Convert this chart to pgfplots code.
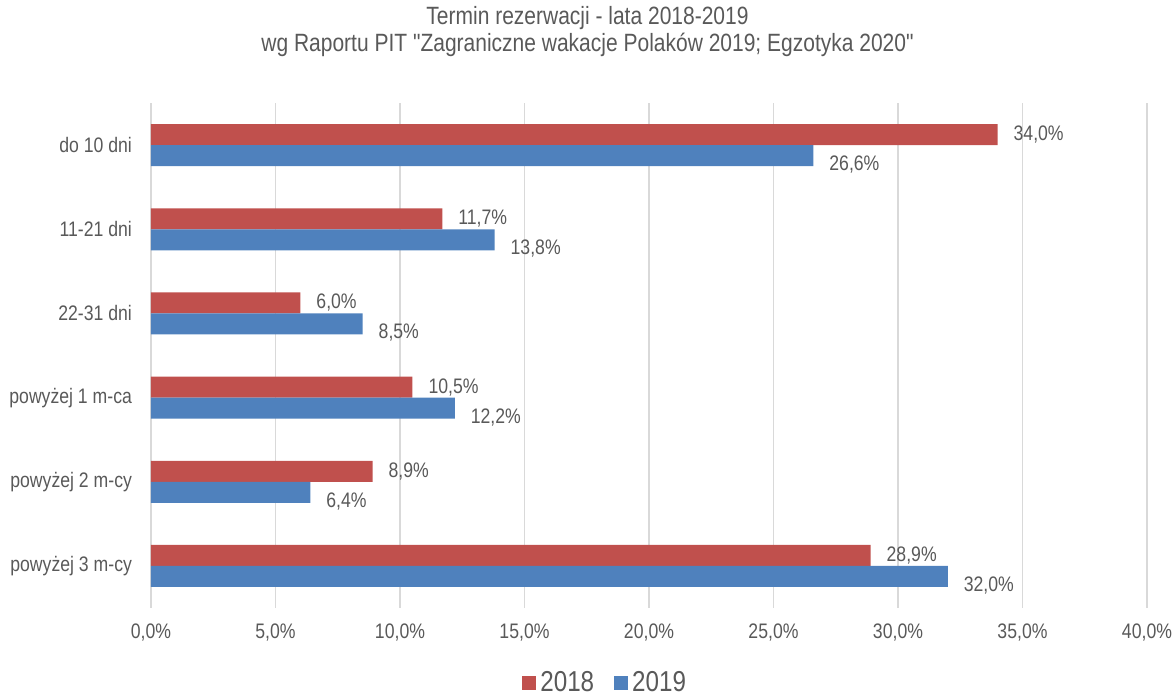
\documentclass[border=0pt]{standalone}
\usepackage{pgfplots}
\pgfplotsset{compat=1.18}
\usepackage{fontspec}
\setmainfont{Liberation Sans}[FakeStretch=0.84]
\newfontfamily\nomap{Liberation Sans}[FakeStretch=0.84]
\definecolor{red18}{HTML}{C0504D}
\definecolor{blue19}{HTML}{4F81BD}
\definecolor{txt}{HTML}{595959}
\definecolor{grd}{HTML}{D9D9D9}
\begin{document}
\begin{tikzpicture}
\useasboundingbox (0,0) rectangle (587.5pt,-347.5pt);
\node[text=txt, font=\fontsize{12.5}{14}\selectfont] at (293.75pt,-9pt) {Termin rezerwacji - lata 2018-2019};
\node[text=txt, font=\nomap\fontsize{12.5}{14}\selectfont] at (293.75pt,-22.5pt) {wg Raportu PIT "Zagraniczne wakacje Polaków 2019; Egzotyka 2020"};
\begin{axis}[
    at={(75.5pt,-304pt)}, anchor=south west,
    scale only axis,
    width=498pt, height=252.5pt,
    xbar, bar width=10.5pt,
    xmin=0, xmax=40, ymin=-0.5, ymax=5.5,
    xtick={0,5,...,40},
    xticklabels={{0,0\%},{5,0\%},{10,0\%},{15,0\%},{20,0\%},{25,0\%},{30,0\%},{35,0\%},{40,0\%}},
    ytick={0,1,2,3,4,5},
    yticklabels={powyżej 3 m-cy, powyżej 2 m-cy, powyżej 1 m-ca, 22-31 dni, 11-21 dni, do 10 dni},
    xmajorgrids=true,
    grid style={grd, line width=0.75pt},
    axis line style={draw=none},
    major tick length=0pt,
    tick label style={text=txt, font=\fontsize{10.5}{12}\selectfont},
    xticklabel style={yshift=-4.5pt},
    yticklabel style={xshift=-6pt},
    /pgf/number format/assume math mode=true,
    nodes near coords={\pgfmathprintnumber[fixed,fixed zerofill,precision=1,use comma]{\pgfplotspointmeta}\%},
    nodes near coords style={text=txt, font=\fontsize{10.5}{12}\selectfont, anchor=west, xshift=4.5pt},
    legend style={at={(0.457,-0.1485)}, anchor=center, draw=none, legend columns=2,
        font=\fontsize{14.4}{16}\selectfont, text=txt,
        /tikz/every even column/.append style={column sep=8pt}},
    legend image code/.code={\fill[#1] (0pt,-3.5pt) rectangle (7pt,3.5pt);},
]
\addplot[fill=red18, draw=none, bar shift=5.25pt] coordinates {
    (34.0,5) (11.7,4) (6.0,3) (10.5,2) (8.9,1) (28.9,0)
};
\addlegendentry{2018}
\addplot[fill=blue19, draw=none, bar shift=-5.25pt,
    nodes near coords style={yshift=-4.5pt}] coordinates {
    (26.6,5) (13.8,4) (8.5,3) (12.2,2) (6.4,1) (32.0,0)
};
\addlegendentry{2019}
\end{axis}
\end{tikzpicture}
\end{document}
